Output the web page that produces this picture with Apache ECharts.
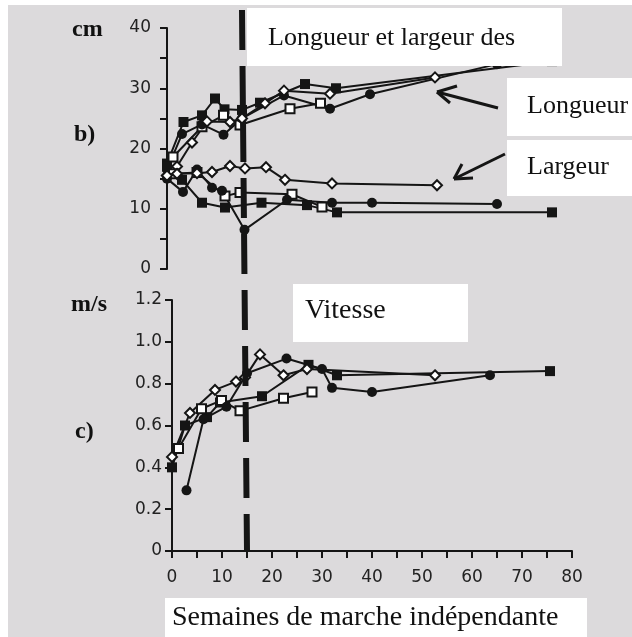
<!DOCTYPE html>
<html><head><meta charset="utf-8">
<script src="https://cdn.jsdelivr.net/npm/echarts@6/dist/echarts.min.js"></script>
<style>html,body{margin:0;padding:0;background:#fff}#c{width:632px;height:637px}</style>
</head><body><div id="c"></div>
<script>
// ---- Tick labels ----
const xTicks = [0,10,20,30,40,50,60,70,80];
const cmTicks = [0,10,20,30,40];
const msTicks = [0,0.2,0.4,0.6,0.8,1.0,1.2];
const dashedWeek = 15;

// ---- b) Longueur (cm) ----
const lonFSqX = [0,3.3,7,9.6,11.5,15,18.6,27.6,33.8,77];
const lonFSqY = [17.5,24.4,25.5,28.3,26.5,26.4,27.6,30.7,30,34.5];
const lonOSqX = [1.2,7,11.3,14.6,24.6,30.7];
const lonOSqY = [18.6,23.6,25.5,23.9,26.6,27.5];
const lonFCiX = [0,3,7,11.3,15,23.4,32.6,40.6,66];
const lonFCiY = [16.5,22.4,24,22.3,25,28.8,26.6,29,34];
const lonODiX = [0,2,5,8,12.6,15,19.6,23.4,32.6,53.6];
const lonODiY = [15.5,17,21,24.5,24.4,25,27.5,29.6,29.1,31.8];

// ---- b) Largeur (cm) ----
const larFSqX = [0,3,7,11.6,18.9,28,34,77];
const larFSqY = [17,14.8,11,10.2,11,10.6,9.4,9.4];
const larOSqX = [1.3,6,11.6,14.6,25,31];
const larOSqY = [15.8,16,12.1,12.7,12.4,10.3];
const larFCiX = [0,3.2,6,9,11,15.5,24,33,41,66];
const larFCiY = [15,12.8,16.5,13.5,13,6.5,11.5,11,11,10.8];
const larODiX = [0,2,6,9,12.6,15.6,19.8,23.6,33,54];
const larODiY = [15.5,15.8,15.9,16.1,17.1,16.7,16.9,14.8,14.2,13.9];

// ---- c) Vitesse (m/s) ----
const vitFSqX = [0,2.6,7,9.6,18,27.3,33,75.6];
const vitFSqY = [0.40,0.60,0.64,0.71,0.74,0.89,0.84,0.86];
const vitOSqX = [1.3,5.9,9.9,13.6,22.3,28];
const vitOSqY = [0.49,0.68,0.72,0.67,0.73,0.76];
const vitFCiX = [2.9,6.3,10.9,15,22.9,30,32,40,63.6];
const vitFCiY = [0.29,0.63,0.69,0.85,0.92,0.87,0.78,0.76,0.84];
const vitODiX = [0,3.6,8.6,12.8,14.6,17.6,22.3,27,52.6];
const vitODiY = [0.45,0.66,0.77,0.81,0.83,0.94,0.84,0.87,0.84];

const zip = (xs, ys) => xs.map((x, i) => [x, ys[i]]);
const INK = '#151515';
const marks = {
  fsq: {symbol:'rect', symbolSize:10, itemStyle:{color:INK}},
  osq: {symbol:'rect', symbolSize:9, itemStyle:{color:'#fff', borderColor:INK, borderWidth:2}},
  fci: {symbol:'circle', symbolSize:10, itemStyle:{color:INK}},
  odi: {symbol:'diamond', symbolSize:10, itemStyle:{color:'#fff', borderColor:INK, borderWidth:2}}
};
function ser(name, xs, ys, m, g) {
  return Object.assign({
    type:'line', name, data: zip(xs, ys), xAxisIndex:g, yAxisIndex:g,
    lineStyle:{color:INK, width:2}, showSymbol:true, z:3, animation:false
  }, marks[m]);
}

const chart = echarts.init(document.getElementById('c'), null, {renderer:'canvas'});
const tickFont = {color:'#222', fontFamily:'DejaVu Sans', fontSize:17};
const axisLineSt = {show:true, lineStyle:{color:INK, width:2}};

const option = {
  backgroundColor:'#ffffff',
  animation:false,
  grid:[
    {left:167, top:28, width:400, height:241},
    {left:172, top:300, width:400, height:251}
  ],
  xAxis:[
    {gridIndex:0, type:'value', min:0, max:80, interval:10, show:false},
    {gridIndex:1, type:'value', min:0, max:80, interval:10,
     axisLine:axisLineSt, splitLine:{show:false},
     axisTick:{show:true, length:7, lineStyle:{color:INK, width:2}},
     minorTick:{show:true, splitNumber:2, length:7, lineStyle:{color:INK, width:2}},
     axisLabel:Object.assign({margin:18, formatter: v => xTicks.includes(v) ? String(v) : ''}, tickFont)}
  ],
  yAxis:[
    {gridIndex:0, type:'value', min:0, max:40, interval:10,
     axisLine:axisLineSt, splitLine:{show:false},
     axisTick:{show:true, length:7, lineStyle:{color:INK, width:2}},
     minorTick:{show:true, splitNumber:2, length:7, lineStyle:{color:INK, width:2}},
     axisLabel:Object.assign({margin:16, formatter: v => cmTicks.includes(v) ? String(v) : ''}, tickFont)},
    {gridIndex:1, type:'value', min:0, max:1.2, interval:0.2,
     axisLine:axisLineSt, splitLine:{show:false},
     axisTick:{show:true, length:7, lineStyle:{color:INK, width:2}},
     axisLabel:Object.assign({margin:10, formatter: v => {
        const t = msTicks.find(m => Math.abs(m - v) < 1e-6);
        if (t === undefined) return '';
        return t === 0 ? '0' : t.toFixed(1);
     }}, tickFont)}
  ],
  series:[
    ser('Longueur ■', lonFSqX, lonFSqY, 'fsq', 0),
    ser('Longueur □', lonOSqX, lonOSqY, 'osq', 0),
    ser('Longueur ●', lonFCiX, lonFCiY, 'fci', 0),
    ser('Longueur ◇', lonODiX, lonODiY, 'odi', 0),
    ser('Largeur ■', larFSqX, larFSqY, 'fsq', 0),
    ser('Largeur □', larOSqX, larOSqY, 'osq', 0),
    ser('Largeur ●', larFCiX, larFCiY, 'fci', 0),
    ser('Largeur ◇', larODiX, larODiY, 'odi', 0),
    ser('Vitesse ■', vitFSqX, vitFSqY, 'fsq', 1),
    ser('Vitesse □', vitOSqX, vitOSqY, 'osq', 1),
    ser('Vitesse ●', vitFCiX, vitFCiY, 'fci', 1),
    ser('Vitesse ◇', vitODiX, vitODiY, 'odi', 1)
  ]
};
chart.setOption(option);

// Decorations: background, boxes, labels, dashed line, arrows
const topX = chart.convertToPixel({xAxisIndex:0, yAxisIndex:0}, [dashedWeek, 40]);
const botX = chart.convertToPixel({xAxisIndex:1, yAxisIndex:1}, [dashedWeek, 0]);
const serif = 'Liberation Serif';
function box(x, y, w, h) { return {type:'rect', shape:{x, y, width:w, height:h}, style:{fill:'#ffffff'}, z:10}; }
function txt(t, x, y, size, bold, zz) {
  return {type:'text', x, y, z: zz || 11, style:{text:t, fill:'#111', font:(bold?'bold ':'') + size + 'px "' + serif + '"', textVerticalAlign:'middle'}};
}
function seg(x1, y1, x2, y2, w) { return {type:'line', shape:{x1, y1, x2, y2}, style:{stroke:INK, lineWidth:w || 3}, z:9}; }
chart.setOption({graphic:[
  {type:'rect', shape:{x:8, y:5, width:624, height:632}, style:{fill:'#dcdadc'}, z:-10, silent:true},
  {type:'line', shape:{x1:topX[0], y1:10, x2:botX[0], y2:botX[1]},
   style:{stroke:INK, lineWidth:6, lineDash:[40,16]}, z:8},
  box(247, 8, 315, 58), txt('Longueur et largeur des', 268, 38, 26),
  box(507, 78, 125, 58), txt('Longueur', 527, 106, 26),
  box(507, 140, 125, 56), txt('Largeur', 527, 167, 26),
  box(293, 284, 175, 58), txt('Vitesse', 305, 311, 28),
  box(165, 598, 422, 39), txt('Semaines de marche indépendante', 172, 618, 28),
  txt('cm', 72, 30, 24, true), txt('b)', 74, 135, 24, true),
  txt('m/s', 71, 305, 24, true), txt('c)', 75, 432, 24, true),
  seg(498, 108, 437, 92), seg(437, 92, 457, 86), seg(437, 92, 450, 103),
  seg(505, 154, 454, 179), seg(454, 179, 462, 164), seg(454, 179, 473, 178)
]});
</script></body></html>
